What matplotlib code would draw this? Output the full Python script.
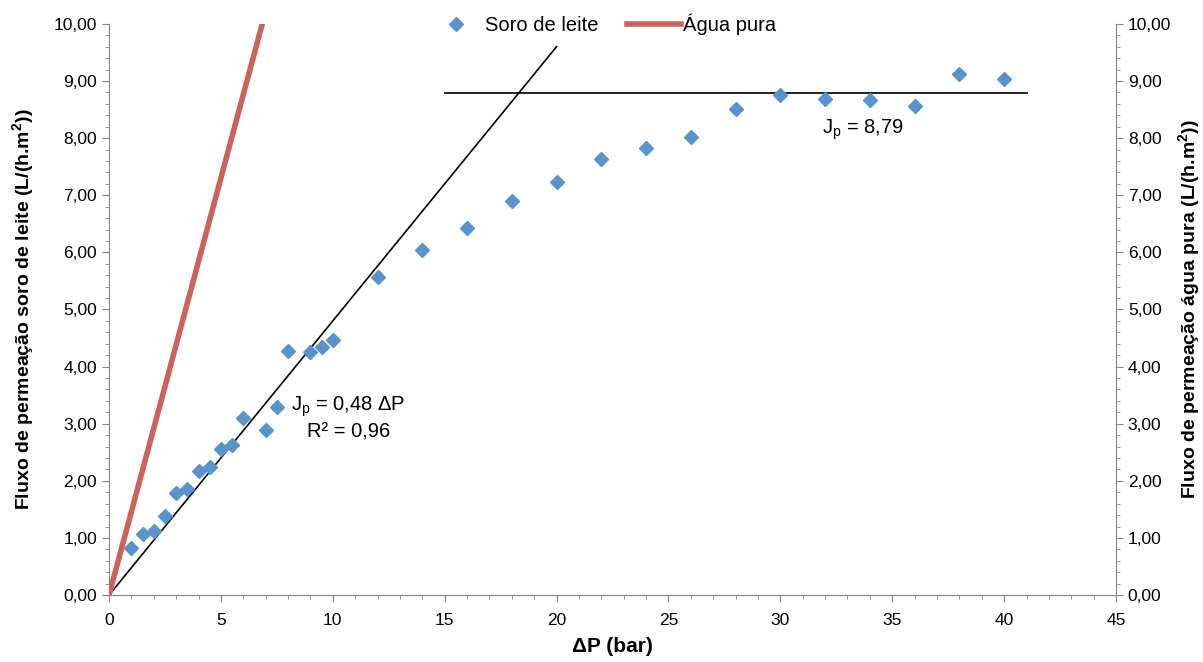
import matplotlib.pyplot as plt
from matplotlib.ticker import MultipleLocator, FuncFormatter

# soro de leite (whey) permeate flux vs transmembrane pressure
dp_soro = [1, 1.5, 2, 2.5, 3, 3.5, 4, 4.5, 5, 5.5, 6, 7, 7.5, 8, 9, 9.5, 10,
           12, 14, 16, 18, 20, 22, 24, 26, 28, 30, 32, 34, 36, 38, 40]
flux_soro = [0.83, 1.07, 1.13, 1.38, 1.78, 1.85, 2.18, 2.25, 2.56, 2.62, 3.10, 2.89, 3.29,
             4.27, 4.25, 4.35, 4.47, 5.57, 6.04, 6.43, 6.90, 7.23, 7.64, 7.83, 8.02,
             8.51, 8.75, 8.69, 8.66, 8.57, 9.12, 9.03]

# pure water flux (secondary axis)
dp_agua = [0, 7.5]
flux_agua = [0, 10.95]

# fitted lines
slope_fit = 0.48
fit_range = [0, 20]
jp_lim = 8.79
lim_range = [15, 41]

plt.rcParams['font.family'] = ['Liberation Sans', 'DejaVu Sans']
grey = '#868686'
fs = 12.5      # tick labels
fs_txt = 14.5  # legend / annotations
fs_lab = 14    # axis titles

fig = plt.figure(figsize=(12.03, 6.62), dpi=100)
ax = fig.add_axes([0.0906, 0.101, 0.8371, 0.863])
ax2 = ax.twinx()

pts, = ax.plot(dp_soro, flux_soro, linestyle='none', marker='D', markersize=7.5,
               color='#5893CC', label='Soro de leite', zorder=3)
ax.plot(fit_range, [slope_fit * v for v in fit_range], color='black', lw=1.2)
ax.plot(lim_range, [jp_lim, jp_lim], color='black', lw=1.2)
agua, = ax2.plot(dp_agua, flux_agua, color='#CC625B', lw=4, label='Água pura')

ax.text(10.7, 3.1, 'J$_\\mathregular{p}$ = 0,48 ΔP\nR² = 0,96', fontsize=fs_txt,
        ha='center', va='center', multialignment='center')
ax.text(33.7, 8.14, 'J$_\\mathregular{p}$ = 8,79', fontsize=fs_txt, ha='center', va='center')

fmt = FuncFormatter(lambda v, p: f'{v:.2f}'.replace('.', ','))
for a in (ax, ax2):
    a.set_xlim(0, 45)
    a.set_ylim(0, 10)
    a.yaxis.set_major_locator(MultipleLocator(1))
    a.yaxis.set_minor_locator(MultipleLocator(0.2))
    a.yaxis.set_major_formatter(fmt)
    a.spines['top'].set_visible(False)
    for s in a.spines.values():
        s.set_color(grey)
    a.tick_params(which='major', length=5, color=grey, labelsize=fs, direction='out')
    a.tick_params(which='minor', length=3, color=grey, direction='out')

ax.xaxis.set_major_locator(MultipleLocator(5))
ax.xaxis.set_minor_locator(MultipleLocator(1))
ax.tick_params(axis='x', which='major', pad=8)
ax.spines['right'].set_visible(False)
ax2.spines['left'].set_visible(False)

ax.set_xlabel('ΔP (bar)', fontsize=15, fontweight='bold', labelpad=6)
ax.set_ylabel('Fluxo de permeação soro de leite (L/(h.m$^\\mathregular{2}$))',
              fontsize=fs_lab, fontweight='bold', labelpad=12)
ax2.set_ylabel('Fluxo de permeação água pura (L/(h.m$^\\mathregular{2}$))',
               fontsize=fs_lab, fontweight='bold', labelpad=4)

ax.legend(handles=[pts, agua], loc='upper center', bbox_to_anchor=(0.49, 1.05),
          ncol=2, frameon=False, fontsize=fs_txt, handlelength=2.7,
          handletextpad=0.1, columnspacing=1.4)

plt.savefig('out.png', dpi=100)
